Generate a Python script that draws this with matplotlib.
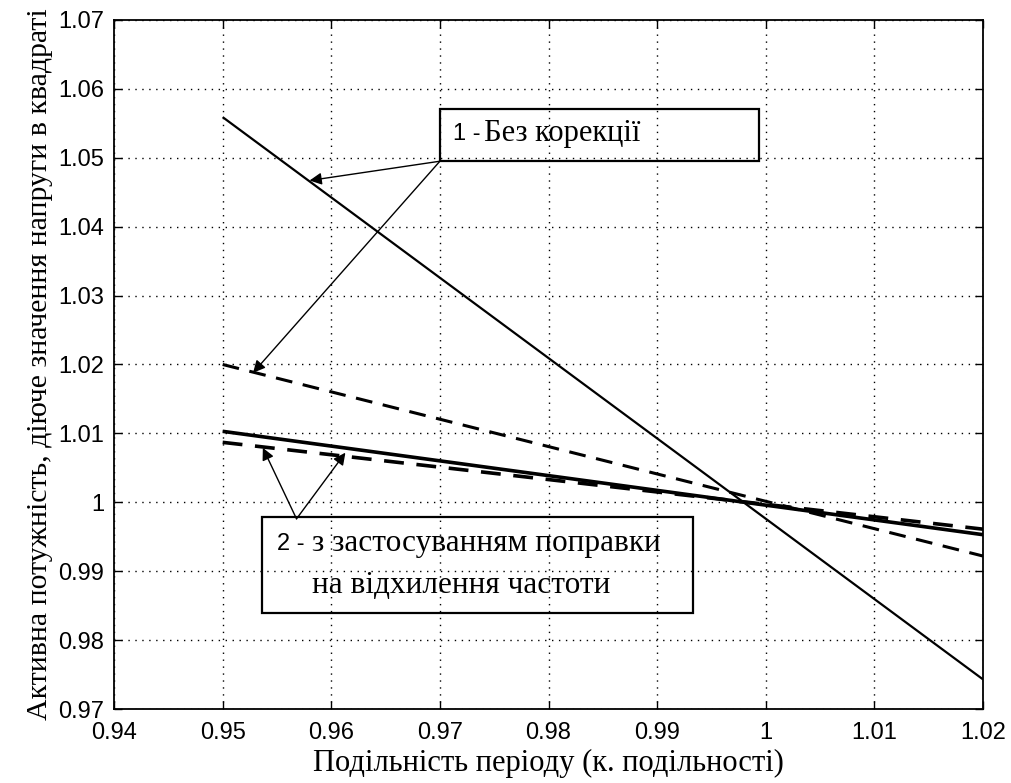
import matplotlib.pyplot as plt
from matplotlib.patches import Rectangle

# Values (line end points)
x_ends = [0.95, 1.02]
no_corr_solid = [1.0559, 0.9743]
no_corr_dashed = [1.0200, 0.9922]
corr_solid = [1.0103, 0.9953]
corr_dashed = [1.0087, 0.9961]

x_ticks = [0.94, 0.95, 0.96, 0.97, 0.98, 0.99, 1.00, 1.01, 1.02]
x_tick_labels = ["0.94", "0.95", "0.96", "0.97", "0.98", "0.99", "1", "1.01", "1.02"]
y_ticks = [0.97, 0.98, 0.99, 1.00, 1.01, 1.02, 1.03, 1.04, 1.05, 1.06, 1.07]
y_tick_labels = ["0.97", "0.98", "0.99", "1", "1.01", "1.02", "1.03", "1.04", "1.05", "1.06", "1.07"]

SERIF = ["Liberation Serif", "DejaVu Serif"]
SANS = ["Liberation Sans", "DejaVu Sans"]


def main():
    fig = plt.figure(figsize=(10.11, 7.83), dpi=100)
    ax = fig.add_axes([0.1128, 0.0945, 0.8595, 0.88])

    # curves
    ax.plot(x_ends, no_corr_solid, color="black", lw=1.6, solid_capstyle="butt")
    ax.plot(x_ends, no_corr_dashed, color="black", lw=2.2, linestyle=(0, (5.5, 3.5)))
    ax.plot(x_ends, corr_solid, color="black", lw=2.6, solid_capstyle="butt")
    ax.plot(x_ends, corr_dashed, color="black", lw=2.6, linestyle=(0, (5.5, 3.5)))

    ax.set_xlim(0.94, 1.02)
    ax.set_ylim(0.97, 1.07)
    ax.set_xticks(x_ticks)
    ax.set_xticklabels(x_tick_labels, family=SANS, fontsize=17)
    ax.set_yticks(y_ticks)
    ax.set_yticklabels(y_tick_labels, family=SANS, fontsize=17)
    ax.tick_params(direction="in", length=6, width=1, top=True, right=True)
    ax.tick_params(axis="x", pad=9)
    ax.tick_params(axis="y", pad=7)
    # MATLAB puts the lowest y label slightly above the axis
    ax.get_yticklabels()[0].set_y(0.9715)
    ax.grid(True, color="black", linestyle=(0, (1, 4)), linewidth=1)
    for sp in ax.spines.values():
        sp.set_linewidth(1.3)

    ax.set_xlabel("Подільність періоду (к. подільності)", family=SERIF, fontsize=22, labelpad=4)
    ax.set_ylabel("Активна потужність, діюче значення напруги в квадраті",
                  family=SERIF, fontsize=21.5, labelpad=4)

    # annotation box 1
    ax.add_patch(Rectangle((0.9700, 1.0495), 0.0294, 0.0076, fill=False,
                           edgecolor="black", lw=1.6, zorder=5))
    ax.text(0.9712, 1.0535, "1 -", family=SANS, fontsize=17, va="center", zorder=6)
    ax.text(0.9741, 1.0535, "Без корекції", family=SERIF, fontsize=22, va="center", zorder=6)
    arrow = dict(arrowstyle="-|>", color="black", lw=1.0, mutation_scale=18, shrinkA=0, shrinkB=0)
    ax.annotate("", xy=(0.9580, 1.0467), xytext=(0.9700, 1.0495), arrowprops=arrow)
    ax.annotate("", xy=(0.9528, 1.0188), xytext=(0.9700, 1.0495), arrowprops=arrow)

    # annotation box 2
    ax.add_patch(Rectangle((0.9536, 0.9839), 0.0397, 0.0140, fill=False,
                           edgecolor="black", lw=1.6, zorder=5))
    ax.text(0.9550, 0.9940, "2 -", family=SANS, fontsize=17, va="center", zorder=6)
    ax.text(0.9582, 0.9940, "з застосуванням поправки", family=SERIF, fontsize=22.5,
            va="center", zorder=6)
    ax.text(0.9582, 0.9879, "на відхилення частоти", family=SERIF, fontsize=22.5,
            va="center", zorder=6)
    ax.annotate("", xy=(0.9537, 1.0079), xytext=(0.9568, 0.9976), arrowprops=arrow)
    ax.annotate("", xy=(0.9613, 1.0072), xytext=(0.9568, 0.9976), arrowprops=arrow)

    fig.savefig("out.png", dpi=100, facecolor="white")
    plt.close(fig)


if __name__ == "__main__":
    main()
